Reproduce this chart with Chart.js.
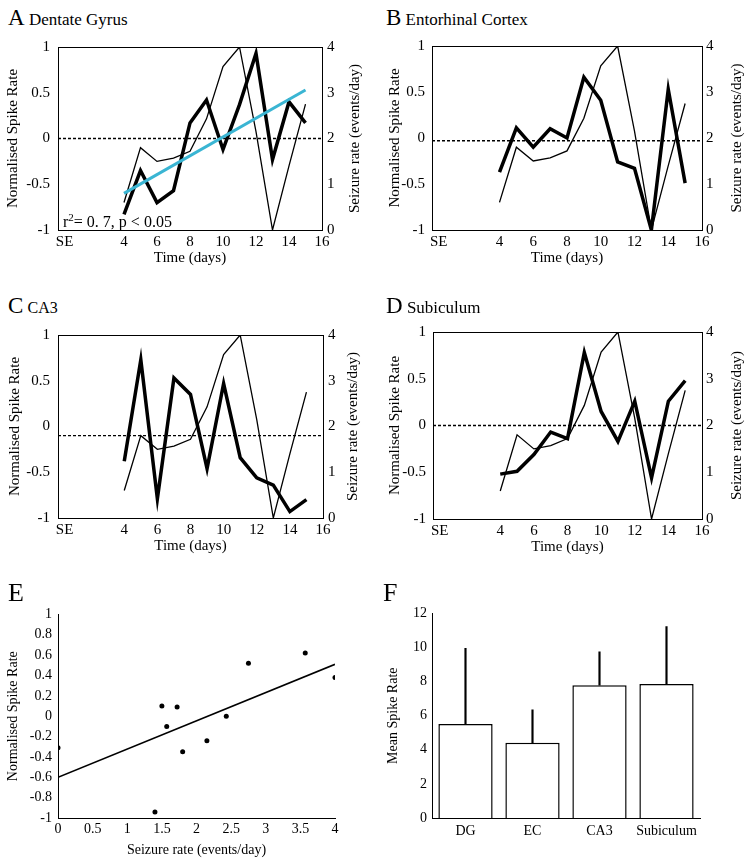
<!DOCTYPE html>
<html lang="en">

<head>
    <meta charset="UTF-8" />
    <title>Spike rate vs seizure rate</title>
    <style>
        body {
            margin: 0;
            background: #fff;
            font-family: "Liberation Serif", serif;
        }

        #page {
            position: relative;
            width: 751px;
            height: 865px;
            overflow: hidden;
        }

        .panel {
            position: absolute;
        }

        .panel canvas {
            display: block;
        }

        .tag {
            position: absolute;
            color: #000;
            white-space: nowrap;
            line-height: 1;
            font-size: 17px;
            z-index: 2;
        }

        .tag .big {
            font-size: 23px;
        }

        .tag .huge {
            font-size: 26px;
        }

        .note {
            position: absolute;
            font-size: 16px;
            line-height: 1;
            white-space: nowrap;
            z-index: 2;
        }

        .note sup {
            font-size: 11px;
        }
    </style>
    <script src="https://cdn.jsdelivr.net/npm/chart.js"></script>
</head>

<body>
    <div id="page">
        <div class="tag" style="left:8px;top:6px"><span class="big">A</span> Dentate Gyrus</div>
        <div class="tag" style="left:386px;top:6px"><span class="big">B</span> Entorhinal Cortex</div>
        <div class="tag" style="left:8px;top:294px"><span class="big">C</span> <span style="font-size:16px">CA3</span></div>
        <div class="tag" style="left:386px;top:294px"><span class="big">D</span> Subiculum</div>
        <div class="tag" style="left:8px;top:580px"><span class="huge">E</span></div>
        <div class="tag" style="left:383px;top:580px"><span class="huge">F</span></div>

        <div class="panel" style="left:0;top:30px"><canvas id="chartA" width="375" height="240"></canvas></div>
        <div class="panel" style="left:375px;top:30px"><canvas id="chartB" width="376" height="240"></canvas></div>
        <div class="panel" style="left:0;top:318px"><canvas id="chartC" width="375" height="240"></canvas></div>
        <div class="panel" style="left:375px;top:316px"><canvas id="chartD" width="376" height="243"></canvas></div>
        <div class="panel" style="left:0;top:600px"><canvas id="chartE" width="375" height="265"></canvas></div>
        <div class="panel" style="left:375px;top:600px"><canvas id="chartF" width="376" height="265"></canvas></div>

        <div class="note" style="left:63px;top:212px">r<sup>2</sup>= 0. 7, p &lt; 0.05</div>
    </div>

    <script>
        // time course data (days after SE)
        const days = [4, 5, 6, 7, 8, 9, 10, 11, 12, 13, 14, 15];
        const seizureRate = [0.6, 1.8, 1.5, 1.57, 1.72, 2.43, 3.57, 4, 2.15, 0, 1.4, 2.75];
        const spikeDG = [-0.83, -0.35, -0.70, -0.57, 0.17, 0.42, -0.12, 0.37, 0.93, -0.23, 0.40, 0.17];
        const spikeEC = [-0.37, 0.11, -0.10, 0.10, 0.00, 0.66, 0.41, -0.26, -0.33, -1.0, 0.53, -0.49];
        const spikeCA3 = [-0.38, 0.73, -0.79, 0.53, 0.35, -0.46, 0.47, -0.34, -0.56, -0.64, -0.93, -0.80];
        const spikeSub = [-0.52, -0.49, -0.31, -0.07, -0.14, 0.78, 0.15, -0.17, 0.26, -0.56, 0.26, 0.48];
        const baselineDG = 0;
        const baselineEC = -0.03;
        const baselineCA3 = -0.10;
        const baselineSub = 0;
        const fitDays = [4, 15];
        const fitDG = [-0.6, 0.53];
        const timeTickValues = [0.4, 4, 6, 8, 10, 12, 14, 16];
        const timeTickLabels = ['SE', '4', '6', '8', '10', '12', '14', '16'];

        // panel E
        const scatterSeizure = [0, 1.4, 1.5, 1.57, 1.72, 1.8, 2.15, 2.43, 2.75, 3.57, 4];
        const scatterSpike = [-0.31, -0.94, 0.1, -0.1, 0.09, -0.35, -0.24, 0, 0.52, 0.62, 0.38];
        const fitSeizure = [0, 4];
        const fitSpike = [-0.6, 0.51];

        // panel F
        const regions = ['DG', 'EC', 'CA3', 'Subiculum'];
        const meanRate = [5.52, 4.41, 7.79, 7.86];
        const meanRateUpper = [9.95, 6.34, 9.74, 11.22];

        Chart.defaults.color = '#000';
        Chart.defaults.font.family = '"Liberation Serif", serif';
        Chart.defaults.font.size = 15;

        // matlab style labels: 1 not 1.0
        const plainNum = v => String(+Number(v).toFixed(2));

        const rightTitle = {
            id: 'rightTitle',
            afterDraw(chart, args, opts) {
                if (!opts.text) return;
                const s = chart.scales.y1;
                const ctx = chart.ctx;
                ctx.save();
                ctx.translate(s.right - opts.offset, (s.top + s.bottom) / 2);
                ctx.rotate(-Math.PI / 2);
                ctx.font = '15px "Liberation Serif"';
                ctx.textAlign = 'center';
                ctx.textBaseline = 'middle';
                ctx.fillStyle = '#000';
                ctx.fillText(opts.text, 0, 0);
                ctx.restore();
            }
        };

        const noGrid = { display: false, drawTicks: false };
        const blackBorder = { color: '#000', width: 1 };

        function timeChart(id, spike, baseline, g, fit) {
            const ds = [];
            if (fit) {
                ds.push({ data: fitDays.map((d, i) => ({ x: d, y: fit[i] })), yAxisID: 'y', borderColor: '#3ab5d3', borderWidth: 3 });
            }
            ds.push({ data: days.map((d, i) => ({ x: d, y: spike[i] })), yAxisID: 'y', borderColor: '#000', borderWidth: 3.5 });
            ds.push({ data: [{ x: 0, y: baseline }, { x: 16, y: baseline }], yAxisID: 'y', borderColor: '#000', borderWidth: 1.4, borderDash: [3, 2] });
            ds.push({ data: days.map((d, i) => ({ x: d, y: seizureRate[i] })), yAxisID: 'y1', borderColor: '#000', borderWidth: 1.3 });

            return new Chart(document.getElementById(id), {
                type: 'line',
                data: { datasets: ds },
                options: {
                    responsive: false,
                    animation: false,
                    layout: { padding: { top: g.padTop, left: 0, right: 0, bottom: 0 } },
                    elements: {
                        point: { radius: 0 },
                        line: { tension: 0, borderJoinStyle: 'miter', borderCapStyle: 'butt' }
                    },
                    plugins: {
                        legend: { display: false },
                        tooltip: { enabled: false },
                        rightTitle: { text: 'Seizure rate (events/day)', offset: g.rightTitle }
                    },
                    scales: {
                        x: {
                            type: 'linear', position: 'bottom', min: 0, max: 16,
                            grid: noGrid, border: blackBorder,
                            afterFit: s => { s.height = g.xH; },
                            afterBuildTicks: s => { s.ticks = timeTickValues.map(v => ({ value: v })); },
                            ticks: {
                                padding: 3, maxRotation: 0, autoSkip: false,
                                callback: v => timeTickLabels[timeTickValues.indexOf(v)]
                            },
                            title: { display: true, text: 'Time (days)', padding: { top: 0, bottom: 3 } }
                        },
                        xTop: {
                            type: 'linear', position: 'top', min: 0, max: 16,
                            grid: noGrid, border: blackBorder,
                            ticks: { display: false },
                            afterFit: s => { s.height = 0; }
                        },
                        y: {
                            position: 'left', min: -1, max: 1,
                            grid: noGrid, border: blackBorder,
                            ticks: { stepSize: 0.5, padding: g.yPad, callback: plainNum },
                            afterFit: s => { s.width = g.yW; },
                            title: { display: true, text: 'Normalised Spike Rate', padding: { top: g.yTitlePad, bottom: 0 } }
                        },
                        y1: {
                            position: 'right', min: 0, max: 4,
                            grid: noGrid, border: blackBorder,
                            ticks: { stepSize: 1, padding: g.y1Pad, callback: plainNum },
                            afterFit: s => { s.width = g.y1W; }
                        }
                    }
                },
                plugins: [rightTitle]
            });
        }

        timeChart('chartA', spikeDG, baselineDG,
            { padTop: 9, xH: 40, yW: 58, y1W: 53, yPad: 8, y1Pad: 5, yTitlePad: 4, rightTitle: 20 }, fitDG);
        timeChart('chartB', spikeEC, baselineEC,
            { padTop: 9, xH: 40, yW: 57, y1W: 49, yPad: 7, y1Pad: 4, yTitlePad: 11, rightTitle: 14 });
        timeChart('chartC', spikeCA3, baselineCA3,
            { padTop: 9, xH: 40, yW: 58, y1W: 52, yPad: 8, y1Pad: 5, yTitlePad: 6, rightTitle: 22 });
        timeChart('chartD', spikeSub, baselineSub,
            { padTop: 9, xH: 40, yW: 58, y1W: 49, yPad: 7, y1Pad: 4, yTitlePad: 11, rightTitle: 14 });

        // E: spike rate vs seizure rate
        new Chart(document.getElementById('chartE'), {
            type: 'scatter',
            data: {
                datasets: [
                    {
                        data: scatterSeizure.map((x, i) => ({ x: x, y: scatterSpike[i] })),
                        backgroundColor: '#000', borderColor: '#000', pointRadius: 2.5, borderWidth: 0
                    },
                    {
                        data: fitSeizure.map((x, i) => ({ x: x, y: fitSpike[i] })),
                        showLine: true, borderColor: '#000', borderWidth: 1.6, pointRadius: 0
                    }
                ]
            },
            options: {
                responsive: false,
                animation: false,
                layout: { padding: { top: 11, left: 0, right: 40, bottom: 0 } },
                plugins: { legend: { display: false }, tooltip: { enabled: false } },
                scales: {
                    x: {
                        min: 0, max: 4,
                        grid: noGrid, border: blackBorder,
                        ticks: { stepSize: 0.5, padding: 3, maxRotation: 0, font: { size: 14 }, callback: plainNum },
                        afterFit: s => { s.height = 47; },
                        title: { display: true, text: 'Seizure rate (events/day)', font: { size: 14 }, padding: { top: 0, bottom: 6 } }
                    },
                    y: {
                        min: -1, max: 1,
                        grid: noGrid, border: blackBorder,
                        ticks: { stepSize: 0.2, padding: 6, font: { size: 14 }, callback: plainNum },
                        afterFit: s => { s.width = 58; },
                        title: { display: true, text: 'Normalised Spike Rate', font: { size: 14 }, padding: { top: 5, bottom: 0 } }
                    }
                }
            }
        });

        // F: mean spike rate per region
        new Chart(document.getElementById('chartF'), {
            type: 'bar',
            data: {
                labels: regions,
                datasets: [
                    {
                        data: meanRate,
                        backgroundColor: '#fff', borderColor: '#000', borderWidth: 1.5,
                        barPercentage: 0.81, categoryPercentage: 1, grouped: false, order: 1
                    },
                    {
                        data: meanRate.map((m, i) => [m, meanRateUpper[i]]),
                        backgroundColor: '#000', borderWidth: 0,
                        barThickness: 1.5, grouped: false, order: 2
                    }
                ]
            },
            options: {
                responsive: false,
                animation: false,
                layout: { padding: { top: 13, left: 0, right: 51, bottom: 0 } },
                plugins: { legend: { display: false }, tooltip: { enabled: false } },
                scales: {
                    x: {
                        grid: noGrid, border: blackBorder,
                        ticks: { padding: 5, font: { size: 14 } },
                        afterFit: s => { s.height = 47; }
                    },
                    y: {
                        min: 0, max: 12,
                        grid: noGrid, border: blackBorder,
                        ticks: { stepSize: 2, padding: 5, font: { size: 14 } },
                        afterFit: s => { s.width = 57; },
                        title: { display: true, text: 'Mean Spike Rate', font: { size: 14 }, padding: { top: 10, bottom: 0 } }
                    }
                }
            }
        });
    </script>
</body>

</html>
